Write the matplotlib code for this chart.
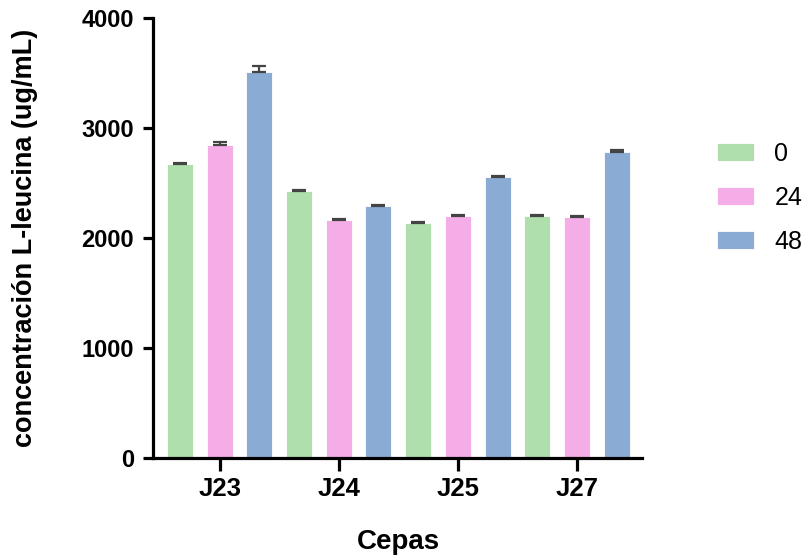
import numpy as np
import matplotlib.pyplot as plt

cepas = ['J23', 'J24', 'J25', 'J27']
horas = ['0', '24', '48']
media_0 = [2675, 2428, 2138, 2203]
media_24 = [2850, 2168, 2198, 2193]
media_48 = [3512, 2288, 2553, 2782]
err_0 = [8, 8, 8, 10]
err_24 = [25, 8, 8, 8]
err_48 = [55, 8, 10, 18]
colores = ['#AEDFAD', '#F5ADE7', '#8AACD4']

plt.rcParams['font.family'] = ['Liberation Sans', 'DejaVu Sans']

fig = plt.figure(figsize=(8.04, 5.57), dpi=100)
ax = fig.add_axes([153 / 804, 1 - 458 / 557, (642 - 153) / 804, (458 - 18) / 557])

medias = [media_0, media_24, media_48]
errores = [err_0, err_24, err_48]
base = np.arange(len(cepas)) * 3
ancho = 0.655

for k, (m, e, c, h) in enumerate(zip(medias, errores, colores, horas)):
    x = base + k
    ax.bar(x, m, width=ancho, color=c, edgecolor='white', linewidth=0.6, label=h, zorder=2)
    ax.errorbar(x, m, yerr=[np.zeros(len(e)), e], fmt='none', ecolor='#444444',
                elinewidth=1.6, capsize=5, capthick=1.6, zorder=3)

ax.set_xlim(-0.68, base[-1] + 2.64)
ax.set_ylim(0, 4000)
ax.set_yticks([0, 1000, 2000, 3000, 4000])
ax.set_xticks(base + 1)
ax.set_xticklabels(cepas)

for s in ['top', 'right']:
    ax.spines[s].set_visible(False)
for s in ['left', 'bottom']:
    ax.spines[s].set_linewidth(2.3)

ax.tick_params(axis='y', length=7, width=2.3, pad=6.5, labelsize=17)
ax.tick_params(axis='x', length=9.5, width=2.3, pad=4, labelsize=18.5)
for t in ax.get_xticklabels() + ax.get_yticklabels():
    t.set_fontweight('bold')

ax.set_xlabel('Cepas', fontsize=20, fontweight='bold')
ax.xaxis.set_label_coords(0.501, -0.19)
ax.xaxis.label.set_va('center')
ax.set_ylabel('concentración L-leucina (ug/mL)', fontsize=19.5, fontweight='bold')
ax.yaxis.set_label_coords(-0.262, 0.5)
ax.yaxis.label.set_va('center')

fig.legend(loc='center left', bbox_to_anchor=(717 / 804, 1 - 198 / 557),
           frameon=False, fontsize=18, handlelength=1.5, handleheight=0.75,
           handletextpad=0.8, labelspacing=0.8, borderpad=0, borderaxespad=0)

fig.savefig('out.png', dpi=100)
